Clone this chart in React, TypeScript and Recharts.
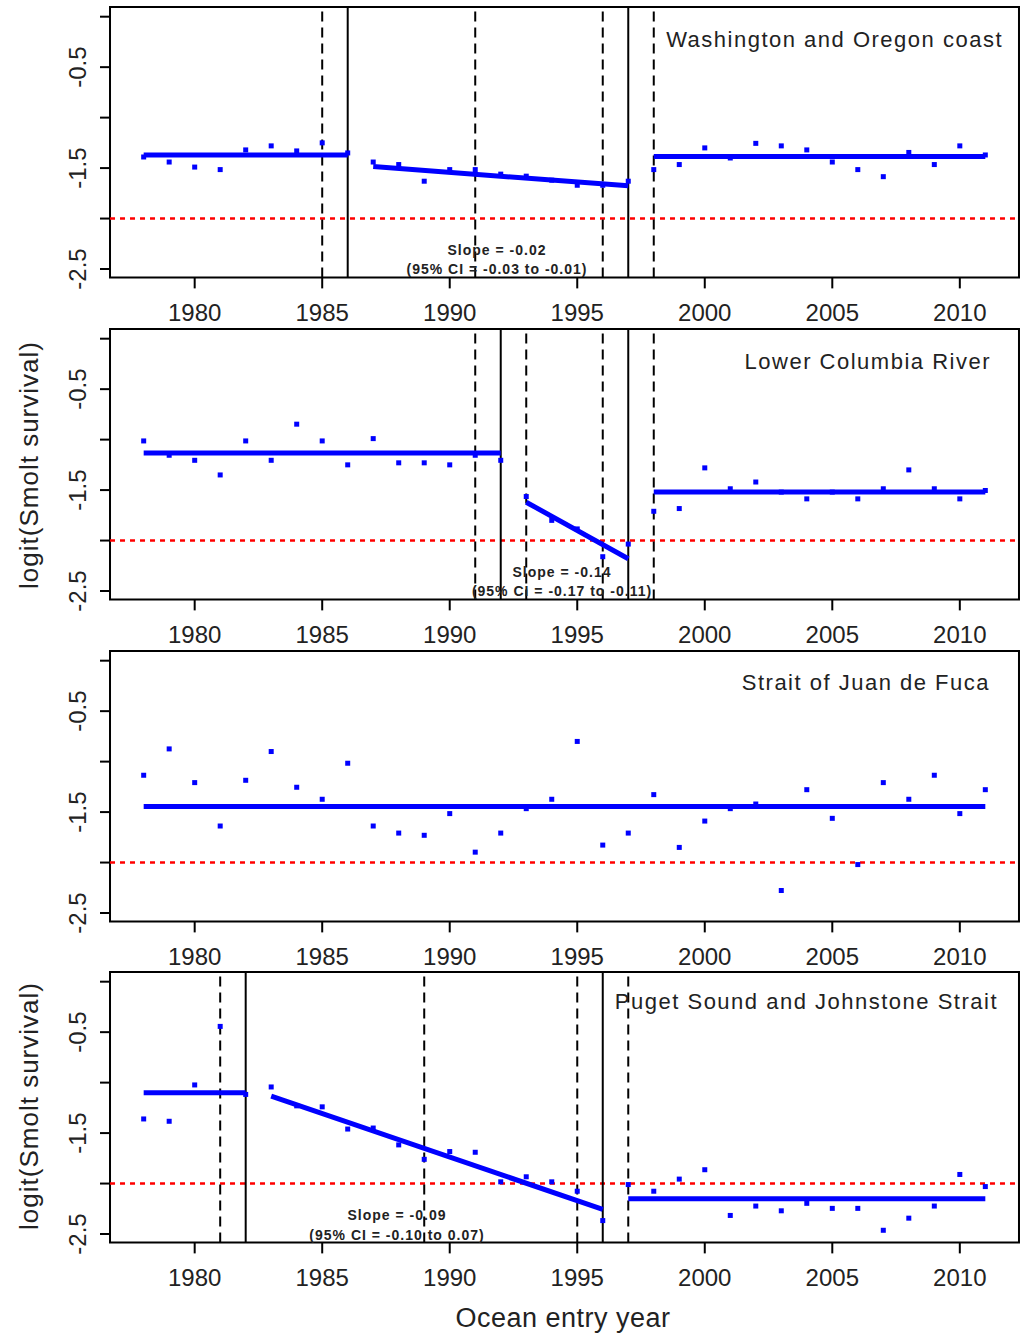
import React from 'react';
import { ComposedChart, Line, Scatter, XAxis, YAxis, ReferenceLine, ReferenceArea } from 'recharts';

const years = [
  1978, 1979, 1980, 1981, 1982, 1983, 1984, 1985, 1986, 1987, 1988, 1989,
  1990, 1991, 1992, 1993, 1994, 1995, 1996, 1997, 1998, 1999, 2000, 2001,
  2002, 2003, 2004, 2005, 2006, 2007, 2008, 2009, 2010, 2011,
];

// Washington and Oregon coast
const waSurvival = [
  -1.39, -1.44, -1.49, -1.515, -1.32, -1.28, -1.33, -1.25, -1.35, -1.44, -1.465, -1.63,
  -1.515, -1.515, -1.56, -1.58, -1.62, -1.67, -1.67, -1.63, -1.515, -1.465, -1.3, -1.4,
  -1.255, -1.28, -1.32, -1.44, -1.515, -1.585, -1.345, -1.465, -1.28, -1.37,
];
const waFitStart = [1978, 1987, 1998];
const waFitEnd = [1986, 1997, 2011];
const waFitFrom = [-1.37, -1.485, -1.386];
const waFitTo = [-1.37, -1.676, -1.386];
const waSolid = [1986, 1997];
const waDashed = [1985, 1991, 1996, 1998];

// Lower Columbia River
const lcrSurvival = [
  -1.013, -1.155, -1.205, -1.35, -1.013, -1.205, -0.847, -1.013, -1.25, -0.99, -1.23, -1.23,
  -1.25, -1.155, -1.205, -1.564, -1.8, -1.885, -2.16, -2.035, -1.71, -1.683, -1.28, -1.487,
  -1.42, -1.52, -1.587, -1.52, -1.587, -1.487, -1.3, -1.487, -1.587, -1.504,
];
const lcrFitStart = [1978, 1993, 1998];
const lcrFitEnd = [1992, 1997, 2011];
const lcrFitFrom = [-1.132, -1.62, -1.52];
const lcrFitTo = [-1.132, -2.18, -1.52];
const lcrSolid = [1992, 1997];
const lcrDashed = [1991, 1993, 1996, 1998];

// Strait of Juan de Fuca
const jdfSurvival = [
  -1.135, -0.874, -1.208, -1.638, -1.185, -0.9, -1.254, -1.373, -1.016, -1.638, -1.708, -1.73,
  -1.515, -1.897, -1.708, -1.466, -1.373, -0.8, -1.827, -1.708, -1.327, -1.85, -1.589, -1.466,
  -1.42, -2.277, -1.278, -1.562, -2.02, -1.208, -1.373, -1.135, -1.515, -1.278,
];
const jdfFitStart = [1978];
const jdfFitEnd = [2011];
const jdfFitFrom = [-1.445];
const jdfFitTo = [-1.445];

// Puget Sound and Johnstone Strait
const psSurvival = [
  -1.36, -1.383, -1.023, -0.443, -1.117, -1.043, -1.23, -1.24, -1.46, -1.45, -1.617, -1.76,
  -1.683, -1.69, -1.983, -1.933, -1.983, -2.076, -2.367, -2.01, -2.076, -1.956, -1.863, -2.316,
  -2.223, -2.27, -2.196, -2.246, -2.246, -2.463, -2.343, -2.223, -1.91, -2.03,
];
const psFitStart = [1978, 1983, 1997];
const psFitEnd = [1982, 1996, 2011];
const psFitFrom = [-1.1, -1.133, -2.15];
const psFitTo = [-1.1, -2.256, -2.15];
const psSolid = [1982, 1996];
const psDashed = [1981, 1989, 1995, 1997];

const xTicks = [1980, 1985, 1990, 1995, 2000, 2005, 2010];
const yTicks = [0, -0.5, -1, -1.5, -2, -2.5];
const yLabelled = [-0.5, -1.5, -2.5];

const FONT = '"Liberation Sans", Arial, Helvetica, sans-serif';
const X_MIN = 1976.68;
const X_MAX = 2012.32;
const Y_MIN = -2.583;
const Y_MAX = 0.096;

const YTick = (props: any) => {
  const { y, payload } = props;
  if (!yLabelled.includes(payload.value)) return <g />;
  return (
    <text
      x={86}
      y={y}
      transform={`rotate(-90 86 ${y})`}
      textAnchor="middle"
      fontSize={24}
      fill="#222"
      fontFamily={FONT}
    >
      {payload.value.toFixed(1)}
    </text>
  );
};

const Dot = (props: any) => {
  const { cx, cy } = props;
  if (cx == null || cy == null) return <g />;
  return <rect x={cx - 2.5} y={cy - 2.5} width={5} height={5} fill="#0000ff" />;
};

interface PanelProps {
  survival: number[];
  fitStart: number[];
  fitEnd: number[];
  fitFrom: number[];
  fitTo: number[];
  solid: number[];
  dashed: number[];
}

const Panel = ({ survival, fitStart, fitEnd, fitFrom, fitTo, solid, dashed }: PanelProps) => {
  const points = years.map((year, i) => ({ x: year, y: survival[i] }));
  const fits = fitStart.map((s, i) => [
    { x: s, y: fitFrom[i] },
    { x: fitEnd[i], y: fitTo[i] },
  ]);

  return (
    <ComposedChart width={1021} height={327.4} margin={{ top: 7, right: 2, bottom: 0, left: 0 }}>
      <XAxis
        type="number"
        dataKey="x"
        domain={[X_MIN, X_MAX]}
        ticks={xTicks}
        interval={0}
        allowDataOverflow
        axisLine={false}
        tickLine={{ stroke: '#000', strokeWidth: 2 }}
        tickSize={11}
        tickMargin={16}
        height={50}
        tick={{ fontSize: 24, fill: '#222', fontFamily: FONT }}
      />
      <YAxis
        type="number"
        dataKey="y"
        domain={[Y_MIN, Y_MAX]}
        ticks={yTicks}
        interval={0}
        allowDataOverflow
        axisLine={false}
        tickLine={{ stroke: '#000', strokeWidth: 2 }}
        tickSize={10}
        width={110}
        tick={YTick}
      />
      <ReferenceArea
        x1={X_MIN}
        x2={X_MAX}
        y1={Y_MIN}
        y2={Y_MAX}
        fill="none"
        fillOpacity={0}
        stroke="#000"
        strokeWidth={2}
        ifOverflow="visible"
      />
      <ReferenceLine y={-2} stroke="#ff0000" strokeWidth={2.5} strokeDasharray="5 5" />
      {dashed.map((d) => (
        <ReferenceLine key={'d' + d} x={d} stroke="#000" strokeWidth={2} strokeDasharray="10 6" />
      ))}
      {solid.map((s) => (
        <ReferenceLine key={'s' + s} x={s} stroke="#000" strokeWidth={2} />
      ))}
      {fits.map((seg, i) => (
        <Line
          key={'f' + i}
          data={seg}
          dataKey="y"
          stroke="#0000ff"
          strokeWidth={5}
          dot={false}
          activeDot={false}
          isAnimationActive={false}
        />
      ))}
      <Scatter data={points} dataKey="y" shape={Dot} isAnimationActive={false} />
    </ComposedChart>
  );
};

const panelTops = [0.3, 322.3, 643.7, 964.7];

const textStyle = { fontFamily: FONT, fill: '#222' };

export default function App() {
  return (
    <div style={{ position: 'absolute', left: 0, top: 0, width: 1021, height: 1336, background: '#fff' }}>
      <div style={{ position: 'absolute', left: 0, top: panelTops[0] }}>
        <Panel survival={waSurvival} fitStart={waFitStart} fitEnd={waFitEnd} fitFrom={waFitFrom} fitTo={waFitTo} solid={waSolid} dashed={waDashed} />
      </div>
      <div style={{ position: 'absolute', left: 0, top: panelTops[1] }}>
        <Panel survival={lcrSurvival} fitStart={lcrFitStart} fitEnd={lcrFitEnd} fitFrom={lcrFitFrom} fitTo={lcrFitTo} solid={lcrSolid} dashed={lcrDashed} />
      </div>
      <div style={{ position: 'absolute', left: 0, top: panelTops[2] }}>
        <Panel survival={jdfSurvival} fitStart={jdfFitStart} fitEnd={jdfFitEnd} fitFrom={jdfFitFrom} fitTo={jdfFitTo} solid={[]} dashed={[]} />
      </div>
      <div style={{ position: 'absolute', left: 0, top: panelTops[3] }}>
        <Panel survival={psSurvival} fitStart={psFitStart} fitEnd={psFitEnd} fitFrom={psFitFrom} fitTo={psFitTo} solid={psSolid} dashed={psDashed} />
      </div>

      <svg width={1021} height={1336} style={{ position: 'absolute', left: 0, top: 0, pointerEvents: 'none' }}>
        <g fontSize={22} letterSpacing={1.5} textAnchor="end" {...textStyle}>
          <text x={1003} y={47}>Washington and Oregon coast</text>
          <text x={991} y={369}>Lower Columbia River</text>
          <text x={990} y={690}>Strait of Juan de Fuca</text>
          <text x={998} y={1009}>Puget Sound and Johnstone Strait</text>
        </g>
        <g fontSize={14} fontWeight="bold" letterSpacing={1} textAnchor="middle" {...textStyle}>
          <text x={497} y={255}>Slope = -0.02</text>
          <text x={497} y={274}>(95% CI = -0.03 to -0.01)</text>
          <text x={562} y={577}>Slope = -0.14</text>
          <text x={562} y={596}>(95% CI = -0.17 to -0.11)</text>
          <text x={397} y={1220}>Slope = -0.09</text>
          <text x={397} y={1240}>(95% CI = -0.10 to 0.07)</text>
        </g>
        <g fontSize={26} letterSpacing={1} textAnchor="middle" {...textStyle}>
          <text x={38} y={465} transform="rotate(-90 38 465)">logit(Smolt survival)</text>
          <text x={38} y={1106} transform="rotate(-90 38 1106)">logit(Smolt survival)</text>
        </g>
        <text x={563} y={1327} fontSize={27} letterSpacing={0.5} textAnchor="middle" {...textStyle}>
          Ocean entry year
        </text>
      </svg>
    </div>
  );
}
